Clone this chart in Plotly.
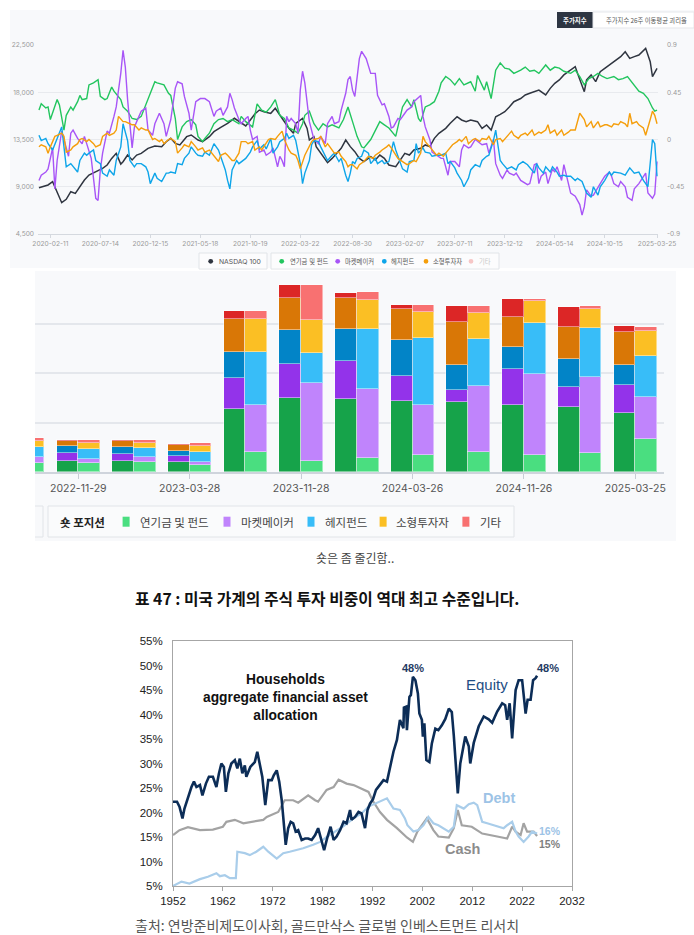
import plotly.graph_objects as go
import pandas as pd

W, H = 694, 935


def px(x):
    return x / W


def py(y):
    return 1 - y / H


KFONT = "Inter, 'Noto Sans CJK KR', sans-serif"
KRFONT = "'Noto Sans CJK KR', sans-serif"
AFONT = "'Liberation Sans', Arial, 'Noto Sans CJK KR', sans-serif"

# ---------------- top chart data (week offset from 2020-01-07, value) ----------------
START = pd.Timestamp("2020-01-07")
top_tick_dates = ["2020-02-11", "2020-07-14", "2020-12-15", "2021-05-18", "2021-10-19",
                  "2022-03-22", "2022-08-30", "2023-02-07", "2023-07-11", "2023-12-12",
                  "2024-05-14", "2024-10-15", "2025-03-25"]
left_ticks = [4500, 9000, 13500, 18000, 22500]
right_ticks = [-0.9, -0.45, 0, 0.45, 0.9]
right_tick_text = ["-0.9", "-0.45", "0", "0.45", "0.9"]

nasdaq = [(0, 8900), (4, 9170), (6, 9480), (8, 8530), (10, 7480), (12, 7800), (14, 8530), (16, 8370),
          (18, 9000), (20, 9640), (22, 10120), (25, 10430), (28, 10750), (30, 11070), (32, 11700),
          (34, 12180), (36, 11160), (37, 11390), (39, 12020), (41, 11550), (43, 12020), (45, 12180),
          (48, 12660), (51, 12880), (54, 12820), (56, 13290), (58, 13610), (60, 13130), (62, 12980),
          (65, 13770), (67, 13930), (70, 13450), (72, 13290), (75, 13770), (77, 14250), (80, 14660),
          (83, 15040), (86, 15520), (88, 15200), (91, 14790), (93, 15360), (95, 15930), (97, 16310),
          (99, 16150), (102, 15990), (104, 16470), (106, 15830), (108, 15200), (110, 14560),
          (112, 14090), (113, 15040), (116, 15520), (118, 14560), (119, 13450), (121, 13770),
          (122, 12820), (124, 12180), (127, 11290), (129, 11700), (131, 12180), (133, 12660),
          (135, 13450), (137, 12820), (139, 12340), (141, 11700), (143, 11390), (146, 11860),
          (148, 11550), (150, 12020), (152, 11700), (154, 11070), (157, 10910), (159, 11550),
          (161, 12180), (163, 12020), (165, 12500), (168, 12660), (170, 12980), (172, 12820),
          (174, 13610), (176, 14090), (179, 14560), (181, 15040), (184, 15670), (186, 15360),
          (188, 15200), (190, 15360), (193, 15200), (195, 14560), (197, 14880), (199, 14400),
          (201, 15670), (203, 15900), (205, 16150), (207, 16600), (209, 17100), (212, 17400),
          (214, 17740), (216, 17900), (218, 18050), (220, 18200), (223, 17740), (225, 18370),
          (227, 18850), (229, 19170), (231, 19650), (234, 20120), (236, 20440), (237, 19800),
          (240, 18050), (241, 19170), (243, 19650), (245, 19010), (247, 19960), (249, 20280),
          (251, 20600), (253, 20910), (256, 21390), (258, 21860), (260, 21230), (262, 21390),
          (264, 21550), (267, 22180), (269, 20910), (270, 19480), (272, 20280)]

pension_dev = [(0, 0.28), (1, 0.34), (3, 0.30), (4, 0.31), (5, 0.19), (6, 0.25), (8, 0.38), (9, 0.33),
               (11, 0.09), (12, 0.23), (14, 0.31), (15, 0.28), (17, 0.36), (18, 0.42), (19, 0.38),
               (21, 0.39), (22, 0.52), (24, 0.54), (26, 0.57), (27, 0.41), (29, 0.38), (30, 0.39),
               (32, 0.50), (33, 0.46), (36, 0.38), (37, 0.31), (39, 0.27), (41, 0.20), (43, 0.19),
               (45, 0.22), (47, 0.33), (49, 0.44), (51, 0.55), (52, 0.54), (55, 0.52), (57, 0.44),
               (58, 0.42), (60, 0.20), (61, 0.00), (63, 0.12), (65, 0.17), (67, 0.19), (69, 0.14),
               (70, 0.03), (72, -0.02), (73, 0.01), (75, 0.06), (77, 0.15), (79, 0.19), (81, 0.20),
               (83, 0.17), (85, 0.19), (88, 0.15), (89, 0.22), (91, 0.17), (94, 0.12), (96, 0.34),
               (98, 0.28), (100, 0.26), (102, 0.31), (104, 0.38), (106, 0.23), (108, 0.20),
               (110, 0.11), (112, 0.09), (114, 0.06), (116, 0.15), (117, 0.23), (119, 0.27),
               (121, 0.15), (123, 0.09), (125, 0.15), (127, 0.12), (129, 0.14), (132, 0.11),
               (134, 0.19), (136, 0.31), (138, 0.17), (140, 0.03), (142, -0.07), (143, -0.08),
               (146, 0.00), (148, 0.09), (150, 0.17), (152, 0.14), (154, 0.11), (157, 0.03),
               (159, 0.22), (160, 0.31), (162, 0.38), (164, 0.31), (165, 0.38), (167, 0.20),
               (168, 0.17), (170, 0.31), (172, 0.33), (174, 0.36), (176, 0.46), (177, 0.54),
               (179, 0.60), (181, 0.57), (183, 0.52), (185, 0.58), (187, 0.52), (190, 0.55),
               (192, 0.46), (193, 0.61), (196, 0.47), (197, 0.55), (199, 0.39), (201, 0.66),
               (203, 0.73), (205, 0.68), (207, 0.67), (209, 0.63), (212, 0.66), (214, 0.69),
               (216, 0.65), (218, 0.66), (220, 0.63), (223, 0.71), (225, 0.66), (227, 0.69),
               (229, 0.68), (231, 0.65), (234, 0.63), (236, 0.66), (238, 0.60), (240, 0.52),
               (242, 0.58), (244, 0.60), (246, 0.63), (248, 0.60), (250, 0.58), (253, 0.60),
               (255, 0.57), (257, 0.58), (259, 0.60), (262, 0.52), (264, 0.46), (266, 0.44),
               (268, 0.39), (270, 0.30), (271, 0.27), (272, 0.28)]

mm_dev = [(0, -0.39), (1, -0.34), (3, -0.31), (4, -0.28), (6, -0.08), (7, -0.47), (8, -0.20), (10, 0.08),
          (11, 0.00), (13, -0.16), (14, 0.06), (15, 0.09), (17, 0.01), (19, -0.04), (20, 0.03),
          (22, -0.10), (23, -0.18), (25, -0.56), (26, -0.58), (27, -0.29), (28, -0.13), (30, 0.08),
          (31, 0.06), (33, 0.22), (34, 0.31), (36, 0.63), (37, 0.85), (38, 0.69), (39, 0.38),
          (41, -0.08), (42, 0.12), (44, 0.22), (45, 0.27), (47, 0.30), (48, 0.09), (50, 0.04),
          (51, 0.15), (53, 0.25), (55, 0.15), (56, 0.03), (58, 0.19), (60, 0.49), (61, 0.55),
          (63, 0.53), (64, 0.41), (66, 0.25), (67, 0.09), (69, 0.36), (71, 0.39), (73, 0.39),
          (75, 0.36), (77, 0.22), (78, 0.27), (80, 0.30), (81, 0.23), (83, 0.31), (84, 0.44),
          (85, 0.38), (86, 0.30), (88, 0.19), (89, 0.15), (91, 0.20), (92, 0.22), (93, 0.09),
          (94, 0.00), (96, 0.03), (97, -0.12), (99, -0.10), (100, -0.15), (102, -0.12), (103, -0.08),
          (105, -0.26), (106, -0.16), (107, -0.20), (108, -0.26), (109, 0.22), (110, 0.17),
          (111, 0.20), (113, 0.15), (114, 0.06), (115, 0.47), (116, 0.65), (117, 0.54), (119, 0.17),
          (120, 0.09), (121, 0.00), (123, -0.04), (124, 0.03), (126, -0.04), (127, 0.15), (129, 0.22),
          (130, 0.15), (132, 0.17), (133, 0.28), (135, 0.44), (136, 0.57), (137, 0.60), (138, 0.47),
          (139, 0.41), (140, 0.60), (141, 0.77), (142, 0.84), (144, 0.77), (146, 0.63), (148, 0.63),
          (149, 0.42), (151, 0.33), (152, 0.34), (154, 0.22), (155, 0.11), (156, 0.12), (158, 0.20),
          (159, 0.19), (161, 0.25), (162, 0.28), (164, 0.31), (165, 0.36), (168, 0.42), (169, 0.22),
          (170, 0.12), (172, 0.00), (173, -0.12), (175, -0.15), (177, -0.18), (178, -0.18),
          (180, -0.34), (181, -0.21), (183, -0.21), (185, -0.26), (186, -0.10), (187, -0.05),
          (189, -0.08), (190, -0.07), (192, 0.00), (195, -0.05), (197, -0.04), (198, -0.13),
          (200, 0.00), (201, -0.23), (203, -0.34), (204, -0.37), (206, -0.29), (207, -0.32),
          (209, -0.34), (210, -0.32), (212, -0.39), (215, -0.43), (216, -0.42), (218, -0.24),
          (219, -0.23), (220, -0.42), (221, -0.35), (223, -0.31), (224, -0.42), (226, -0.28),
          (227, -0.31), (228, -0.26), (230, -0.39), (231, -0.24), (233, -0.42), (234, -0.51),
          (236, -0.54), (238, -0.62), (239, -0.72), (240, -0.64), (241, -0.48), (243, -0.54),
          (244, -0.53), (246, -0.45), (247, -0.42), (249, -0.35), (251, -0.31), (252, -0.35),
          (253, -0.42), (255, -0.45), (256, -0.40), (258, -0.45), (259, -0.55), (261, -0.58),
          (262, -0.47), (264, -0.42), (265, -0.39), (267, -0.32), (268, -0.51), (270, -0.56),
          (271, -0.52), (272, -0.21)]

hf_dev = [(0, 0.04), (1, -0.01), (3, 0.01), (4, -0.04), (6, -0.10), (7, -0.04), (9, 0.06), (10, 0.12),
          (11, -0.07), (12, -0.26), (14, -0.23), (15, -0.26), (17, -0.31), (18, -0.20), (20, -0.13),
          (21, -0.15), (22, -0.13), (24, -0.10), (25, -0.20), (27, -0.23), (28, -0.32), (30, -0.35),
          (31, -0.29), (33, -0.34), (34, -0.20), (36, -0.07), (37, 0.15), (39, -0.01), (40, -0.20),
          (42, -0.26), (43, -0.23), (45, -0.23), (47, -0.26), (48, -0.31), (49, -0.42), (51, -0.32),
          (52, -0.37), (54, -0.40), (56, -0.32), (57, -0.32), (58, -0.31), (60, -0.32), (61, -0.23),
          (63, -0.24), (64, -0.18), (66, -0.13), (67, -0.07), (69, -0.13), (70, -0.15), (72, -0.16),
          (73, -0.12), (75, -0.15), (76, -0.10), (77, -0.04), (79, -0.10), (80, -0.16), (82, -0.29),
          (83, -0.39), (84, -0.47), (85, -0.29), (87, -0.20), (88, -0.23), (90, -0.20), (91, -0.18),
          (93, -0.12), (94, -0.07), (96, -0.01), (97, -0.09), (99, -0.05), (100, -0.09), (102, 0.01),
          (103, -0.13), (105, -0.07), (106, -0.02), (108, 0.01), (109, 0.06), (110, 0.01), (112, 0.04),
          (113, -0.01), (115, -0.23), (116, -0.42), (117, -0.32), (119, -0.20), (120, -0.05),
          (121, -0.01), (123, -0.02), (124, -0.07), (126, -0.15), (127, -0.20), (129, -0.15),
          (130, -0.13), (132, -0.21), (133, -0.18), (135, -0.34), (136, -0.40), (137, -0.32),
          (138, -0.21), (139, -0.23), (140, -0.18), (142, -0.16), (143, -0.10), (145, -0.13),
          (146, -0.23), (148, -0.18), (149, -0.23), (151, -0.20), (152, -0.23), (154, -0.21),
          (155, -0.12), (156, -0.02), (157, -0.10), (159, -0.21), (160, -0.28), (162, -0.31),
          (163, -0.21), (165, -0.20), (166, -0.04), (167, -0.13), (169, -0.08), (170, -0.12),
          (172, -0.13), (173, -0.16), (175, -0.15), (177, -0.15), (179, -0.13), (180, -0.23),
          (181, -0.21), (183, -0.27), (184, -0.32), (186, -0.39), (187, -0.45), (189, -0.37),
          (190, -0.29), (192, -0.24), (194, -0.26), (195, -0.20), (197, -0.16), (198, -0.15),
          (200, -0.01), (201, 0.09), (202, -0.04), (203, -0.20), (204, -0.23), (206, -0.28),
          (207, -0.27), (208, -0.26), (210, -0.29), (211, -0.24), (213, -0.21), (215, -0.24),
          (218, -0.32), (219, -0.23), (220, -0.27), (222, -0.32), (223, -0.26), (225, -0.31),
          (226, -0.26), (228, -0.31), (229, -0.35), (231, -0.34), (232, -0.35), (234, -0.35),
          (236, -0.39), (237, -0.37), (239, -0.40), (241, -0.51), (243, -0.55), (244, -0.45),
          (246, -0.53), (247, -0.45), (249, -0.39), (251, -0.31), (252, -0.34), (253, -0.31),
          (256, -0.32), (258, -0.34), (260, -0.27), (262, -0.32), (264, -0.31), (266, -0.39),
          (268, -0.45), (269, -0.23), (270, 0.00), (271, -0.04), (272, -0.35)]

retail_dev = [(0, -0.07), (1, -0.05), (3, -0.07), (4, -0.13), (5, -0.07), (7, 0.03), (8, 0.04), (10, 0.06),
              (11, 0.03), (12, -0.12), (14, -0.10), (15, -0.07), (17, -0.04), (18, 0.00), (19, 0.01),
              (21, -0.02), (22, 0.00), (24, -0.04), (25, -0.07), (27, -0.05), (28, 0.03), (30, 0.06),
              (31, 0.04), (33, 0.06), (34, 0.09), (35, 0.22), (37, 0.17), (38, 0.17), (40, 0.15),
              (41, 0.14), (42, 0.14), (44, 0.09), (45, 0.11), (47, 0.09), (48, 0.09), (50, 0.00),
              (51, 0.01), (53, -0.02), (54, 0.00), (55, -0.04), (57, 0.00), (58, 0.01), (60, -0.02),
              (61, -0.13), (63, -0.08), (64, -0.05), (66, -0.07), (67, -0.02), (69, -0.07), (70, -0.10),
              (72, -0.08), (73, -0.12), (75, -0.10), (77, -0.16), (79, -0.21), (80, -0.15), (82, -0.13),
              (83, -0.15), (85, -0.20), (86, -0.20), (88, -0.13), (89, -0.02), (91, -0.02), (92, -0.04),
              (94, -0.02), (95, -0.10), (97, -0.07), (98, -0.10), (99, -0.07), (101, 0.00), (102, 0.01),
              (104, 0.00), (105, 0.03), (107, 0.08), (108, 0.00), (110, -0.10), (111, -0.13),
              (113, -0.15), (114, -0.20), (115, -0.28), (117, -0.15), (119, -0.07), (120, -0.02),
              (121, 0.00), (123, 0.01), (124, 0.03), (126, -0.07), (127, -0.04), (129, -0.10),
              (130, -0.13), (132, -0.12), (133, -0.16), (135, -0.21), (136, -0.26), (137, -0.24),
              (138, -0.24), (140, -0.28), (141, -0.24), (143, -0.21), (144, -0.18), (145, -0.16),
              (147, -0.18), (148, -0.15), (150, -0.12), (151, -0.10), (153, -0.07), (154, -0.05),
              (155, -0.08), (157, -0.15), (158, -0.18), (160, -0.21), (162, -0.24), (163, -0.23),
              (165, -0.20), (166, -0.21), (168, -0.13), (169, 0.03), (170, -0.02), (172, -0.07),
              (174, -0.12), (175, -0.15), (176, -0.13), (178, -0.16), (179, -0.13), (181, -0.07),
              (182, -0.05), (184, -0.02), (185, 0.00), (186, -0.02), (188, 0.03), (189, -0.04),
              (191, 0.00), (192, 0.01), (194, -0.02), (195, 0.01), (197, 0.00), (198, 0.03),
              (200, -0.05), (201, 0.00), (203, 0.01), (204, -0.02), (206, 0.03), (207, 0.06),
              (208, 0.08), (209, 0.04), (211, 0.01), (212, 0.04), (214, 0.06), (215, 0.04), (217, 0.09),
              (218, 0.04), (220, 0.07), (221, 0.06), (223, 0.09), (224, 0.14), (225, 0.06), (227, 0.09),
              (228, 0.04), (230, 0.09), (231, 0.04), (233, 0.07), (234, 0.09), (236, 0.09), (237, 0.17),
              (238, 0.25), (240, 0.19), (241, 0.12), (243, 0.17), (244, 0.11), (246, 0.17), (247, 0.12),
              (249, 0.14), (250, 0.14), (252, 0.12), (253, 0.15), (255, 0.14), (256, 0.17), (258, 0.15),
              (259, 0.12), (260, 0.25), (261, 0.15), (263, 0.17), (264, 0.14), (266, 0.11), (267, 0.04),
              (269, 0.19), (270, 0.27), (271, 0.23), (272, 0.15)]

top_names = ["연기금 및 펀드", "마켓메이커", "헤지펀드", "소형투자자", "기타"]
top_colors = ["#22c55e", "#a855f7", "#0ea5e9", "#f59e0b", "#f6c6c6"]
nasdaq_color = "#2f3540"

# ---------------- middle chart data ----------------
bar_dates = ["2022-09-27", "2022-11-29", "2023-01-31", "2023-03-28", "2023-07-25", "2023-11-28",
             "2024-01-30", "2024-03-26", "2024-07-30", "2024-11-26", "2025-01-28", "2025-03-25"]
bar_labeled = ["2022-11-29", "2023-03-28", "2023-11-28", "2024-03-26", "2024-11-26", "2025-03-25"]

long_pension = [0.22, 0.22, 0.22, 0.20, 1.27, 1.49, 1.47, 1.43, 1.41, 1.35, 1.31, 1.19]
long_mm = [0.16, 0.17, 0.14, 0.13, 0.63, 0.70, 0.78, 0.51, 0.25, 0.74, 0.40, 0.57]
long_hf = [0.14, 0.13, 0.15, 0.10, 0.53, 0.67, 0.64, 0.72, 0.51, 0.44, 0.57, 0.40]
long_retail = [0.10, 0.10, 0.11, 0.11, 0.67, 0.65, 0.62, 0.64, 0.86, 0.60, 0.65, 0.66]
long_other = [0.03, 0.03, 0.03, 0.03, 0.16, 0.27, 0.10, 0.08, 0.32, 0.36, 0.41, 0.12]

short_pension = [0.19, 0.18, 0.20, 0.14, 0.41, 0.23, 0.28, 0.34, 0.41, 0.34, 0.39, 0.66]
short_mm = [0.11, 0.08, 0.10, 0.06, 0.94, 1.56, 1.40, 1.02, 1.32, 1.63, 1.53, 0.85]
short_hf = [0.21, 0.20, 0.18, 0.20, 1.08, 0.61, 1.21, 1.34, 0.96, 1.05, 0.98, 0.84]
short_retail = [0.12, 0.13, 0.11, 0.13, 0.66, 0.67, 0.58, 0.53, 0.52, 0.44, 0.40, 0.49]
short_other = [0.05, 0.05, 0.05, 0.05, 0.16, 0.71, 0.16, 0.15, 0.15, 0.03, 0.05, 0.08]

long_colors = ["#16a34a", "#9333ea", "#0284c7", "#d97706", "#dc2626"]
short_colors = ["#4ade80", "#c084fc", "#38bdf8", "#fbbf24", "#f87171"]

# ---------------- bottom chart data (year, %) ----------------
equity = [(1952.0, 22.2), (1952.8, 22.2), (1953.3, 21.2), (1953.9, 18.8), (1954.3, 20.8), (1955.0, 23.2),
          (1955.7, 25.2), (1956.2, 26.3), (1956.7, 25.2), (1957.4, 25.6), (1957.9, 23.5), (1958.6, 25.9),
          (1959.2, 27.3), (1960.0, 27.3), (1960.7, 25.2), (1961.2, 27.9), (1961.7, 30.0), (1962.2, 29.3),
          (1962.6, 24.2), (1963.1, 28.0), (1963.7, 30.0), (1964.4, 30.7), (1964.9, 29.0), (1965.4, 31.0),
          (1965.9, 28.0), (1966.4, 29.6), (1966.7, 27.3), (1967.5, 29.3), (1968.4, 30.3), (1968.9, 32.4),
          (1969.4, 30.0), (1969.9, 27.3), (1970.5, 21.5), (1971.1, 26.6), (1971.8, 26.6), (1972.2, 27.6),
          (1972.8, 28.6), (1973.3, 26.3), (1973.8, 22.5), (1974.2, 17.8), (1974.6, 13.4), (1975.1, 16.8),
          (1975.6, 18.1), (1976.1, 17.8), (1976.6, 16.1), (1977.1, 16.4), (1977.8, 14.4), (1978.5, 14.7),
          (1979.1, 14.7), (1979.8, 14.4), (1980.5, 15.4), (1981.1, 16.8), (1981.7, 14.7), (1982.3, 12.3),
          (1982.9, 14.7), (1983.6, 17.1), (1984.2, 14.4), (1984.8, 15.1), (1985.5, 16.4), (1986.2, 18.1),
          (1986.8, 17.8), (1987.5, 20.5), (1987.8, 18.5), (1988.5, 19.1), (1989.2, 20.1), (1989.8, 19.8),
          (1990.5, 16.8), (1991.0, 20.5), (1991.5, 21.8), (1992.1, 22.7), (1992.7, 24.6), (1993.4, 25.6),
          (1994.2, 26.6), (1994.9, 26.3), (1995.5, 29.3), (1996.2, 32.4), (1996.9, 34.8), (1997.5, 38.9),
          (1998.2, 37.2), (1998.3, 41.4), (1998.75, 41.6), (1998.9, 36.8), (1999.4, 43.6), (1999.7, 44.0),
          (2000.1, 47.7), (2000.6, 47.0), (2001.1, 44.3), (2001.4, 40.2), (2001.9, 38.9), (2002.1, 35.5),
          (2002.4, 38.2), (2002.8, 30.7), (2003.4, 30.3), (2003.9, 34.1), (2004.6, 37.1), (2005.2, 36.8),
          (2005.9, 37.8), (2006.6, 39.1), (2007.3, 41.2), (2007.9, 40.5), (2008.3, 35.7), (2009.1, 23.9),
          (2009.6, 30.0), (2010.6, 35.5), (2011.3, 33.5), (2011.6, 30.0), (2012.3, 34.2), (2013.3, 37.6),
          (2014.3, 39.6), (2015.3, 39.0), (2016.0, 38.3), (2017.0, 40.6), (2018.0, 42.3), (2018.6, 41.9),
          (2019.0, 38.9), (2019.5, 42.3), (2020.0, 35.1), (2020.7, 45.0), (2021.3, 47.0), (2022.0, 47.0),
          (2022.7, 40.2), (2023.1, 43.0), (2023.7, 43.0), (2024.2, 47.0), (2024.7, 47.4), (2025.0, 47.9)]

cash = [(1952.0, 15.4), (1953.3, 16.4), (1955.0, 17.0), (1957.4, 16.4), (1960.0, 16.5), (1962.0, 17.1),
        (1962.7, 18.1), (1964.4, 18.5), (1966.1, 17.8), (1968.1, 18.1), (1970.1, 18.5), (1970.8, 19.1),
        (1973.1, 20.1), (1974.4, 22.5), (1976.1, 22.5), (1977.1, 22.0), (1979.1, 23.5), (1980.5, 22.5),
        (1981.1, 22.2), (1982.8, 24.6), (1984.2, 25.2), (1985.2, 26.7), (1986.8, 25.9), (1988.2, 25.6),
        (1989.8, 24.9), (1991.2, 24.2), (1992.0, 22.5), (1993.5, 20.1), (1994.9, 18.5), (1996.9, 16.8),
        (1998.9, 14.9), (2000.1, 14.0), (2001.0, 16.1), (2002.9, 18.8), (2004.2, 16.4), (2005.2, 15.1),
        (2007.3, 14.9), (2008.3, 16.8), (2009.1, 20.5), (2009.9, 17.4), (2011.9, 17.1), (2014.0, 15.7),
        (2017.0, 15.1), (2019.0, 14.7), (2020.0, 17.1), (2020.7, 16.1), (2021.7, 15.4), (2022.3, 17.8),
        (2023.0, 16.1), (2024.3, 16.1), (2025.0, 15.2)]

debt = [(1952.0, 5.0), (1953.7, 5.9), (1955.3, 5.5), (1957.4, 6.4), (1959.0, 6.9), (1960.7, 7.6),
        (1961.4, 7.0), (1962.4, 7.2), (1963.4, 6.6), (1964.6, 6.6), (1964.9, 12.0), (1966.4, 11.7),
        (1967.4, 11.3), (1968.7, 12.0), (1970.1, 13.0), (1971.1, 12.0), (1972.8, 10.6), (1974.1, 11.7),
        (1975.4, 12.0), (1978.1, 12.7), (1980.1, 13.4), (1981.5, 14.0), (1983.1, 15.2), (1984.5, 16.1),
        (1986.2, 17.2), (1988.2, 18.8), (1989.8, 19.8), (1991.2, 21.2), (1992.9, 22.0), (1994.9, 22.9),
        (1996.2, 20.8), (1997.5, 20.5), (1998.5, 18.8), (1999.0, 17.4), (2000.2, 16.1), (2001.2, 16.4),
        (2002.2, 17.4), (2003.2, 19.1), (2004.2, 17.8), (2005.2, 17.4), (2007.3, 16.1), (2008.3, 17.1),
        (2008.9, 21.5), (2010.3, 20.8), (2011.3, 21.7), (2012.3, 22.0), (2013.0, 21.5), (2014.0, 18.1),
        (2015.0, 17.8), (2016.3, 17.4), (2018.3, 16.8), (2019.0, 17.4), (2020.0, 18.1), (2020.7, 16.1),
        (2021.3, 15.1), (2022.3, 14.0), (2023.3, 15.1), (2024.0, 16.1), (2025.0, 15.7)]

bottom_xticks = [1952, 1962, 1972, 1982, 1992, 2002, 2012, 2022, 2032]
bottom_yticks = [5, 10, 15, 20, 25, 30, 35, 40, 45, 50, 55]


def weekly(pairs):
    return [START + pd.Timedelta(weeks=w) for w, _ in pairs], [v for _, v in pairs]


fig = go.Figure()

# ---------------- top chart traces ----------------
for name, series, color in zip(top_names[:4], [pension_dev, mm_dev, hf_dev, retail_dev], top_colors[:4]):
    xs, ys = weekly(series)
    fig.add_trace(go.Scatter(x=xs, y=ys, mode="lines", line=dict(color=color, width=1.4),
                             xaxis="x", yaxis="y2", showlegend=False, hoverinfo="skip", name=name))
xs, ys = weekly(nasdaq)
fig.add_trace(go.Scatter(x=xs, y=ys, mode="lines", line=dict(color=nasdaq_color, width=1.5),
                         xaxis="x", yaxis="y", showlegend=False, hoverinfo="skip", name="NASDAQ 100"))

# ---------------- middle chart traces ----------------
idx = list(range(len(bar_dates)))
long_sets = [long_pension, long_mm, long_hf, long_retail, long_other]
short_sets = [short_pension, short_mm, short_hf, short_retail, short_other]
BW = 0.39
for name, lv, sv, dc, lc in zip(top_names, long_sets, short_sets, long_colors, short_colors):
    fig.add_trace(go.Bar(x=[i - BW / 2 for i in idx], y=lv, width=BW, name=name,
                         marker=dict(color=dc, line=dict(color="rgba(255,255,255,0.45)", width=1)),
                         xaxis="x2", yaxis="y3", showlegend=False, hoverinfo="skip"))
    fig.add_trace(go.Bar(x=[i + BW / 2 for i in idx], y=sv, width=BW, name=name,
                         marker=dict(color=lc, line=dict(color="rgba(255,255,255,0.45)", width=1)),
                         xaxis="x2", yaxis="y3", showlegend=False, hoverinfo="skip"))

# ---------------- bottom chart traces ----------------
fig.add_trace(go.Scatter(x=[a for a, _ in cash], y=[b for _, b in cash], mode="lines",
                         line=dict(color="#a3a3a3", width=2.2), xaxis="x3", yaxis="y4",
                         showlegend=False, name="Cash"))
fig.add_trace(go.Scatter(x=[a for a, _ in debt], y=[b for _, b in debt], mode="lines",
                         line=dict(color="#a9cdea", width=2.2), xaxis="x3", yaxis="y4",
                         showlegend=False, name="Debt"))
fig.add_trace(go.Scatter(x=[a for a, _ in equity], y=[b for _, b in equity], mode="lines",
                         line=dict(color="#0c2d57", width=2.6), xaxis="x3", yaxis="y4",
                         showlegend=False, name="Equity"))


# ---------------- shapes ----------------
def rect(x0, x1, y0, y1, fill, line_color=None, layer="above", lw=1):
    return dict(type="rect", xref="paper", yref="paper", x0=px(x0), x1=px(x1), y0=py(y1), y1=py(y0),
                fillcolor=fill, line=dict(color=line_color or "rgba(0,0,0,0)",
                                          width=lw if line_color else 0), layer=layer)


def dot(cx, cy, r, color):
    return dict(type="circle", xref="paper", yref="paper", x0=px(cx - r), x1=px(cx + r),
                y0=py(cy + r), y1=py(cy - r), fillcolor=color, line=dict(width=0))


shapes = [
    rect(10, 694, 10, 268, "#f8f9fb", layer="below"),
    rect(35, 676, 271, 541, "#f8f9fb", layer="below"),
    rect(557, 593, 12, 28, "#2d3542"),
    rect(593, 694, 12, 28, "#ffffff", "#e5e7eb"),
    # top legend boxes
    rect(199, 267, 253, 269, "rgba(255,255,255,0.5)", "#e1e4e8"),
    rect(271, 499, 253, 269, "rgba(255,255,255,0.5)", "#e1e4e8"),
    # middle legend box (and clipped neighbour)
    rect(48, 514, 506, 537, "rgba(255,255,255,0.3)", "#e1e4e8"),
    dict(type="path", xref="paper", yref="paper",
         path=f"M {px(35)} {py(506)} L {px(43)} {py(506)} L {px(43)} {py(537)} L {px(35)} {py(537)}",
         line=dict(color="#e1e4e8", width=1)),
]

# top legend dots
top_leg_dots = [210.7, 281.7, 337.7, 384.3, 426.0, 471.0]
top_leg_text_x = [216.7, 287.7, 343.3, 389.3, 430.7, 476.7]
top_leg_labels = ["NASDAQ 100"] + top_names
top_leg_colors = [nasdaq_color] + top_colors
for cx, c in zip(top_leg_dots, top_leg_colors):
    shapes.append(dot(cx, 261.3, 2.4, c))

# middle legend squares
mid_sq_x = [122.6, 223.5, 307.5, 379.6, 462.4]
mid_text_x = [138.0, 239.0, 323.0, 393.8, 478.0]
for x0, c in zip(mid_sq_x, short_colors):
    shapes.append(rect(x0, x0 + 7, 516.7, 526.7, c))


# ---------------- annotations ----------------
def txt(text, x, y, size, color, family=KFONT, xanchor="center", yanchor="middle"):
    return dict(text=text, x=px(x), y=py(y), xref="paper", yref="paper", showarrow=False,
                xanchor=xanchor, yanchor=yanchor, font=dict(size=size, color=color, family=family))


ann = [
    txt("<b>주가지수</b>", 575, 20.3, 6.4, "white", KRFONT),
    txt("주가지수 26주 이동평균 괴리율", 646, 20.3, 6.3, "#555", KRFONT),
    txt("숏은 좀 줄긴함..", 355, 557, 12, "#444", KRFONT),
    txt("<b>표 47 : 미국 가계의 주식 투자 비중이 역대 최고 수준입니다.</b>", 327, 598, 15.8, "#111", KRFONT),
    txt("<b>Households<br>aggregate financial asset<br>allocation</b>", 285, 697, 13.8, "#111", AFONT),
    txt("<b>48%</b>", 413, 668, 11, "#1f3b63", AFONT),
    txt("Equity", 487, 684, 15, "#1f4e85", AFONT),
    txt("<b>48%</b>", 548, 668, 11, "#1f3b63", AFONT),
    txt("<b>Debt</b>", 499, 798, 14.5, "#9dc3e6", AFONT),
    txt("<b>16%</b>", 550, 831, 10.5, "#9dc3e6", AFONT),
    txt("<b>15%</b>", 550, 844, 10.5, "#7f7f7f", AFONT),
    txt("<b>Cash</b>", 462, 849, 14.5, "#8c8c8c", AFONT),
    txt("출처: 연방준비제도이사회, 골드만삭스 글로벌 인베스트먼트 리서치", 133, 925, 14, "#555", KRFONT,
        xanchor="left"),
    txt("<b>숏 포지션</b>", 57.5, 521.7, 11.5, "#222", KRFONT, xanchor="left"),
]
for x, lab in zip(top_leg_text_x, top_leg_labels):
    col = "#c8c8c8" if lab == "기타" else "#555"
    size = 6.8 if lab == "NASDAQ 100" else 6.3
    ann.append(txt(lab, x, 261.3, size, col, KFONT, xanchor="left"))
for x, lab in zip(mid_text_x, top_names):
    ann.append(txt(lab, x, 521.7, 11.5, "#444", KRFONT, xanchor="left"))

small = dict(size=6.6, color="#9a9a9a", family=KFONT)

fig.update_layout(
    width=W, height=H, margin=dict(l=0, r=0, t=0, b=0, autoexpand=False),
    paper_bgcolor="white", plot_bgcolor="rgba(0,0,0,0)",
    barmode="stack", bargap=0, showlegend=False,
    font=dict(family=KFONT, size=10, color="#444"),
    shapes=shapes, annotations=ann,
    xaxis=dict(domain=[px(38), px(658)], anchor="y", type="date", automargin=False,
               range=["2020-01-04", "2025-03-28"],
               tickvals=top_tick_dates, tickformat="%Y-%m-%d", tickfont=small,
               showgrid=False, showline=True, linecolor="#d5d9df", linewidth=1,
               ticks="outside", ticklen=3, tickcolor="#d5d9df", zeroline=False),
    yaxis=dict(domain=[py(234), py(45)], anchor="x", range=[4500, 22500], automargin=False,
               tickvals=left_ticks, ticktext=[f"{v:,}" for v in left_ticks], tickfont=small,
               gridcolor="#e8eaee", gridwidth=1, zeroline=False, showline=False, ticks="",
               ticklabelstandoff=3),
    yaxis2=dict(overlaying="y", side="right", anchor="x", range=[-0.9, 0.9], automargin=False,
                tickvals=right_ticks, ticktext=right_tick_text, tickfont=small,
                showgrid=False, zeroline=False, showline=False, ticks="", ticklabelstandoff=8),
    xaxis2=dict(domain=[px(35), px(664)], anchor="y3", range=[0.223, 11.515], automargin=False,
                tickvals=[bar_dates.index(d) for d in bar_labeled], ticktext=bar_labeled,
                tickfont=dict(size=10.5, color="#555", family=KFONT),
                showgrid=False, showline=True, linecolor="#cfd4dc", linewidth=2,
                ticks="outside", ticklen=5, tickcolor="#c8cdd5", zeroline=False),
    yaxis3=dict(domain=[py(472), py(274)], anchor="x2", range=[0, 4], tickvals=[0, 1, 2, 3, 4],
                automargin=False,
                showticklabels=False, gridcolor="#e4e7ec", gridwidth=1.5, zeroline=False, ticks=""),
    xaxis3=dict(domain=[px(173), px(572)], anchor="y4", range=[1952, 2032], tickvals=bottom_xticks,
                automargin=False,
                tickfont=dict(size=11.5, color="#222", family=AFONT), showgrid=False,
                showline=True, mirror=True, linecolor="#a6a6a6", linewidth=1,
                ticks="outside", ticklen=4, tickcolor="#a6a6a6", zeroline=False),
    yaxis4=dict(domain=[py(886), py(641)], anchor="x3", range=[5, 55], tickvals=bottom_yticks,
                automargin=False,
                ticktext=[f"{v}%" for v in bottom_yticks],
                tickfont=dict(size=11.5, color="#222", family=AFONT), showgrid=False,
                showline=True, mirror=True, linecolor="#a6a6a6", linewidth=1, ticks="",
                ticklabelstandoff=7, zeroline=False),
)

fig.write_html("out.html",
               post_script="document.body.style.margin='0';document.body.style.overflow='hidden';")
